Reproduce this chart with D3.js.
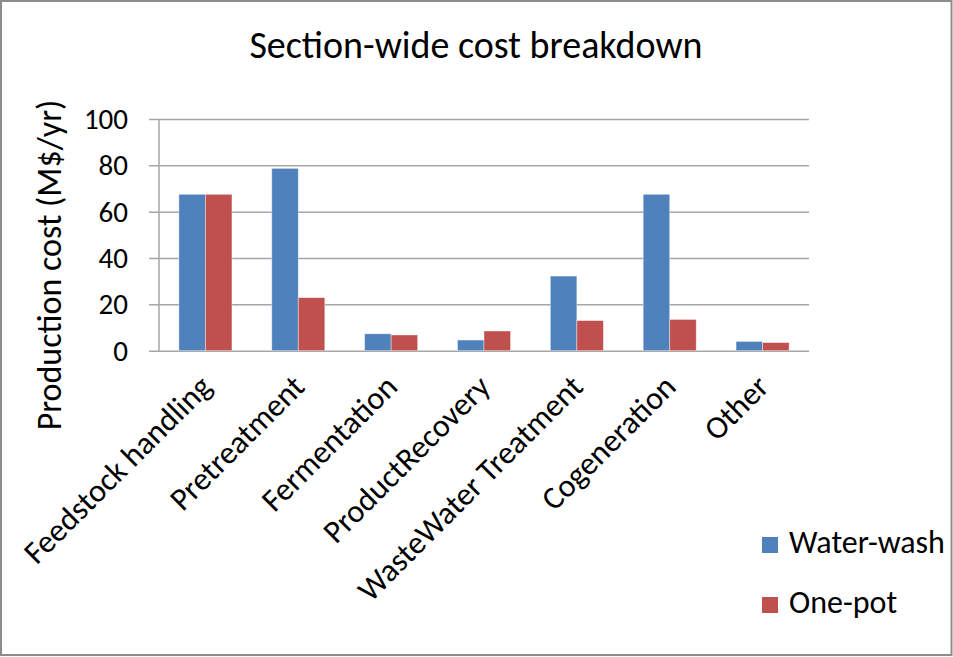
<!DOCTYPE html>
<html>
<head>
<meta charset="utf-8">
<script src="https://cdn.jsdelivr.net/npm/d3@7/dist/d3.min.js"></script>
<style>
  html, body { margin: 0; padding: 0; background: #fff; }
  svg { display: block; }
  text { font-family: Carlito, Calibri, Lato, "Open Sans", sans-serif; fill: #000; }
</style>
</head>
<body>
<svg id="chart" width="953" height="657"></svg>
<script>
// Section cost data (M$/yr)
const categories = ["Feedstock handling", "Pretreatment", "Fermentation", "ProductRecovery",
                    "WasteWater Treatment", "Cogeneration", "Other"];
const seriesNames = ["Water-wash", "One-pot"];
const waterWash = [67.5, 78.7, 7.3, 4.6, 32.2, 67.5, 4.0];
const onePot    = [67.5, 22.9, 6.8, 8.5, 13.0, 13.5, 3.5];
const yTicks = [0, 20, 40, 60, 80, 100];

const colors = ["#4f81bd", "#c0504d"];
const values = [waterWash, onePot];

const svg = d3.select("#chart");
const W = 953, H = 657;

// Outer chart border
svg.append("rect")
  .attr("x", 1).attr("y", 1).attr("width", W - 2.5).attr("height", H - 3)
  .attr("fill", "#fff").attr("stroke", "#8c8c8c").attr("stroke-width", 2);

const plot = { left: 159, right: 809, top: 119, bottom: 350.7 };

const x = d3.scaleBand()
  .domain(categories)
  .range([plot.left, plot.right])
  .paddingInner(1.5 / 3.5)
  .paddingOuter(0.75 / 3.5);

const xSub = d3.scaleBand()
  .domain(seriesNames)
  .range([0, x.bandwidth()]);

const y = d3.scaleLinear().domain([0, 100]).range([plot.bottom, plot.top]);

// Title
svg.append("text")
  .attr("x", 476).attr("y", 58)
  .attr("text-anchor", "middle")
  .style("font-size", "38px")
  .text("Section-wide cost breakdown");

// Gridlines + tick marks + labels via axis
const yAxis = d3.axisLeft(y)
  .tickValues(yTicks)
  .tickSize(-(plot.right - plot.left))
  .tickPadding(0)
  .tickFormat(d3.format("d"));

const gy = svg.append("g")
  .attr("transform", `translate(${plot.left},0)`)
  .call(yAxis);
gy.select(".domain").remove();
gy.selectAll(".tick line")
  .attr("stroke", "#a6a6a6").attr("stroke-width", 1.5)
  .attr("x1", -10);
gy.selectAll(".tick text")
  .attr("x", -31).attr("dy", "0.33em")
  .style("font-size", "29px").style("font-family", "Carlito, Calibri, Lato, 'Open Sans', sans-serif")
  .attr("fill", "#000");

// Vertical axis line
svg.append("line")
  .attr("x1", plot.left).attr("x2", plot.left)
  .attr("y1", plot.top).attr("y2", plot.bottom)
  .attr("stroke", "#a6a6a6").attr("stroke-width", 1.5);

// Bars
const groups = svg.append("g").selectAll("g")
  .data(categories)
  .join("g")
  .attr("transform", d => `translate(${x(d)},0)`);

groups.selectAll("rect")
  .data((d, i) => seriesNames.map((s, k) => ({ s, v: values[k][i], k })))
  .join("rect")
  .attr("x", d => xSub(d.s))
  .attr("width", xSub.bandwidth())
  .attr("y", d => y(d.v))
  .attr("height", d => y(0) - y(d.v))
  .attr("fill", d => colors[d.k])
  .attr("stroke", "#ffffff").attr("stroke-opacity", 0.5).attr("stroke-width", 0.8);

// Category labels, rotated
svg.append("g").selectAll("text")
  .data(categories)
  .join("text")
  .attr("text-anchor", "end")
  .attr("transform", d => `translate(${x(d) + x.bandwidth() / 2 + 8},${plot.bottom + 38}) rotate(-45)`)
  .style("font-size", "32px")
  .text(d => d);

// Y axis title
svg.append("text")
  .attr("text-anchor", "middle")
  .attr("transform", `translate(61,265) rotate(-90)`)
  .style("font-size", "34px")
  .text("Production cost (M$/yr)");

// Legend
const legend = svg.append("g").selectAll("g")
  .data(seriesNames)
  .join("g")
  .attr("transform", (d, i) => `translate(762,${537 + i * 60})`);
legend.append("rect")
  .attr("width", 16).attr("height", 16)
  .attr("fill", (d, i) => colors[i]);
legend.append("text")
  .attr("x", 27).attr("y", 16)
  .style("font-size", "32px")
  .text(d => d);
</script>
</body>
</html>
